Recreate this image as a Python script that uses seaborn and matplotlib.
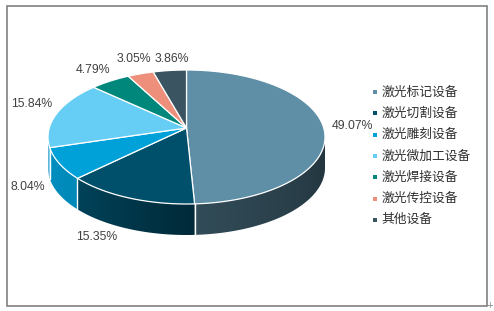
import numpy as np
import matplotlib
matplotlib.use("Agg")
import matplotlib.pyplot as plt
from matplotlib.patches import Polygon, Rectangle
import seaborn as sns

# data
categories = ["激光标记设备", "激光切割设备", "激光雕刻设备", "激光微加工设备",
              "激光焊接设备", "激光传控设备", "其他设备"]
shares = [49.07, 15.35, 8.04, 15.84, 4.79, 3.05, 3.86]
colors = ["#5e8fa7", "#004f6b", "#00a1d9", "#66cdf5", "#00877b", "#ee8f7b", "#3a5462"]

# layout of the pseudo 3d pie (pixel space)
CX, CY = 186.5, 137.0
RX, RY = 138.5, 67.0
DEPTH = 31.0
APEX_Y = 128.0
# label nudges from the slice's outer edge point
label_nudge = [(28, -9), (-33, 8), (-32, -8), (-24, -11), (-17, -11), (-7, -15), (2, -11)]

sns.set_theme(style="white")
plt.rcParams["font.family"] = ["Noto Sans CJK SC", "DejaVu Sans"]

fig = plt.figure(figsize=(4.94, 3.11), dpi=100)
ax = fig.add_axes([0, 0, 1, 1])
ax.set_xlim(0, 494)
ax.set_ylim(311, 0)
ax.axis("off")

palette = sns.color_palette(colors)


def arc(a0, a1, n=200, dy=0.0):
    t = np.radians(np.linspace(a0, a1, n))
    return np.column_stack([CX + RX * np.sin(t), CY - RY * np.cos(t) + dy])


def shade(theta):
    return np.interp(theta, [90, 177, 232, 270], [0.36, 0.53, 0.85, 0.9])


bounds = np.concatenate([[0], np.cumsum(shares) / np.sum(shares) * 360])

# side walls (front half only), shaded with a horizontal gradient
for i, col in enumerate(palette):
    a0, a1 = max(bounds[i], 90), min(bounds[i + 1], 270)
    if a1 <= a0:
        continue
    top = arc(a0, a1)
    bot = arc(a0, a1, dy=DEPTH)[::-1]
    poly = Polygon(np.vstack([top, bot]), closed=True, facecolor="none",
                   edgecolor="none", zorder=1)
    ax.add_patch(poly)
    xs = np.linspace(top[:, 0].min(), top[:, 0].max(), 300)
    theta = 180 - np.degrees(np.arcsin(np.clip((xs - CX) / RX, -1, 1)))
    img = np.array(col)[None, None, :] * shade(theta)[None, :, None]
    im = ax.imshow(img, extent=[xs[0] - 0.5, xs[-1] + 0.5, CY + RY + DEPTH + 2, CY - RY],
                   aspect="auto", interpolation="bilinear", zorder=1)
    im.set_clip_path(poly)
ax.set_xlim(0, 494)
ax.set_ylim(311, 0)

# white seams between side walls
for b in bounds[1:-1]:
    if 90 < b < 270:
        p = arc(b, b, 1)[0]
        ax.plot([p[0], p[0]], [p[1], p[1] + DEPTH], color="white", lw=1.0, zorder=1.5)

# top face
for i, col in enumerate(palette):
    pts = np.vstack([[[CX, APEX_Y]], arc(bounds[i], bounds[i + 1])])
    ax.add_patch(Polygon(pts, closed=True, facecolor=col, edgecolor="white",
                         lw=0.9, zorder=2, joinstyle="round"))

# percentage labels
for i, v in enumerate(shares):
    mid = (bounds[i] + bounds[i + 1]) / 2
    e = arc(mid, mid, 1)[0]
    if 90 < mid < 270:
        e[1] += DEPTH
    dx, dy = label_nudge[i]
    ax.text(e[0] + dx, e[1] + dy, f"{v:.2f}%", ha="center", va="center",
            fontsize=8.8, color="#404040", family=["Liberation Sans", "DejaVu Sans"])

# legend
for i, (name, col) in enumerate(zip(categories, palette)):
    y = 92 + i * 21.3
    ax.scatter([375], [y], marker="s", s=6, color=col, linewidths=0, zorder=3)
    ax.text(381.5, y, name, ha="left", va="center", fontsize=9.2, color="#303030")

# chart frame
ax.add_patch(Rectangle((7, 6), 480, 300, fill=False, edgecolor="#808080", lw=1.2, zorder=4))
ax.text(490, 306, "+", fontsize=6, color="#808080", ha="center", va="center",
        family=["DejaVu Sans"])

fig.savefig("out.png", dpi=100)
